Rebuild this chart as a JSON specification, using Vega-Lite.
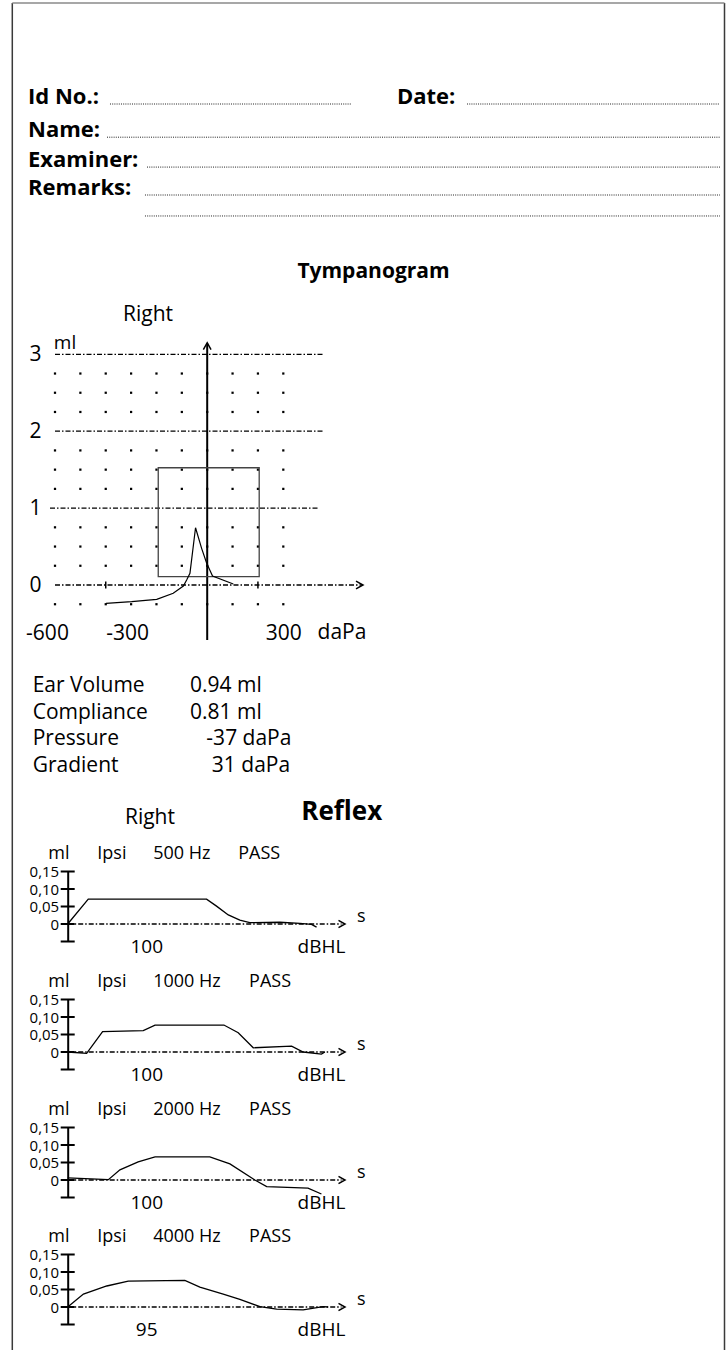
{
"$schema":"https://vega.github.io/schema/vega-lite/v6.json",
"width":726,"height":1350,"padding":0,"autosize":{"type":"none"},
"background":"white",
"config":{"view":{"stroke":null},"font":"Open Sans","text":{"font":"Open Sans","color":"black"}},
"resolve":{"scale":{"x":"independent","y":"independent"},"axis":{"x":"independent","y":"independent"}},
"layer":[
{
 "data":{"values":[{"part":"frame"}]},
 "layer":[
  {"mark":{"type":"rule","color":"#3a3a3a","strokeWidth":1.5},
   "encoding":{"x":{"datum":0,"type":"quantitative","scale":{"domain":[0,1],"range":[12.3,724.5],"nice":false,"zero":false},"axis":null},
               "y":{"datum":0,"type":"quantitative","scale":{"domain":[0,1],"range":[1350,3],"nice":false,"zero":false},"axis":null},"y2":{"datum":1}}},
  {"mark":{"type":"rule","color":"#3a3a3a","strokeWidth":1.5},
   "encoding":{"x":{"datum":1,"type":"quantitative","scale":{"domain":[0,1],"range":[12.3,724.5],"nice":false,"zero":false},"axis":null},
               "y":{"datum":0,"type":"quantitative","scale":{"domain":[0,1],"range":[1350,3],"nice":false,"zero":false},"axis":null},"y2":{"datum":1}}},
  {"mark":{"type":"rule","color":"#8a8a8a","strokeWidth":1.5},
   "encoding":{"x":{"datum":0,"type":"quantitative","scale":{"domain":[0,1],"range":[12.3,724.5],"nice":false,"zero":false},"axis":null},"x2":{"datum":1},
               "y":{"datum":1,"type":"quantitative","scale":{"domain":[0,1],"range":[1350,3],"nice":false,"zero":false},"axis":null}}}
 ]
},
{
 "data":{"values":[{"label":"Id No.:","row":1},{"label":"Name:","row":2},{"label":"Examiner:","row":3},{"label":"Remarks:","row":4}]},
 "layer":[
  {"mark":{"type":"text","fontWeight":"bold","fontSize":22,"align":"left","baseline":"alphabetic"},
   "encoding":{"x":{"datum":3.86,"type":"quantitative","scale":{"domain":[0,100],"range":[0,726],"nice":false,"zero":false},"axis":null},
               "y":{"field":"row","type":"quantitative","scale":{"type":"pow","exponent":0.8,"domain":[1,4],"range":[104,195],"nice":false,"zero":false},"axis":null},
               "text":{"field":"label"}}},
  {"data":{"values":[{"label":"Date:","row":1}]},
   "mark":{"type":"text","fontWeight":"bold","fontSize":22,"align":"left","baseline":"alphabetic"},
   "encoding":{"x":{"datum":54.68,"type":"quantitative","scale":{"domain":[0,100],"range":[0,726],"nice":false,"zero":false},"axis":null},
               "y":{"field":"row","type":"quantitative","scale":{"type":"pow","exponent":0.8,"domain":[1,4],"range":[104,195],"nice":false,"zero":false},"axis":null},
               "text":{"field":"label"}}},
  {"data":{"values":[{"row":1}]},"mark":{"type":"rule","color":"#222","strokeWidth":1,"strokeDash":[1,1.2]},
   "encoding":{"x":{"datum":15.15,"type":"quantitative","scale":{"domain":[0,100],"range":[0,726],"nice":false,"zero":false},"axis":null},"x2":{"datum":48.48},
               "y":{"field":"row","type":"quantitative","scale":{"type":"pow","exponent":0.8,"domain":[1,4],"range":[104,195],"nice":false,"zero":false},"axis":null}}},
  {"data":{"values":[{"row":1}]},"mark":{"type":"rule","color":"#222","strokeWidth":1,"strokeDash":[1,1.2]},
   "encoding":{"x":{"datum":64.33,"type":"quantitative","scale":{"domain":[0,100],"range":[0,726],"nice":false,"zero":false},"axis":null},"x2":{"datum":99.17},
               "y":{"field":"row","type":"quantitative","scale":{"type":"pow","exponent":0.8,"domain":[1,4],"range":[104,195],"nice":false,"zero":false},"axis":null}}},
  {"data":{"values":[{"row":2}]},"mark":{"type":"rule","color":"#222","strokeWidth":1,"strokeDash":[1,1.2]},
   "encoding":{"x":{"datum":14.74,"type":"quantitative","scale":{"domain":[0,100],"range":[0,726],"nice":false,"zero":false},"axis":null},"x2":{"datum":99.17},
               "y":{"field":"row","type":"quantitative","scale":{"type":"pow","exponent":0.8,"domain":[1,4],"range":[104,195],"nice":false,"zero":false},"axis":null}}},
  {"data":{"values":[{"row":3}]},"mark":{"type":"rule","color":"#222","strokeWidth":1,"strokeDash":[1,1.2]},
   "encoding":{"x":{"datum":20.25,"type":"quantitative","scale":{"domain":[0,100],"range":[0,726],"nice":false,"zero":false},"axis":null},"x2":{"datum":99.17},
               "y":{"field":"row","type":"quantitative","scale":{"type":"pow","exponent":0.8,"domain":[1,4],"range":[104,195],"nice":false,"zero":false},"axis":null}}},
  {"data":{"values":[{"row":4}]},"mark":{"type":"rule","color":"#222","strokeWidth":1,"strokeDash":[1,1.2]},
   "encoding":{"x":{"datum":19.97,"type":"quantitative","scale":{"domain":[0,100],"range":[0,726],"nice":false,"zero":false},"axis":null},"x2":{"datum":99.17},
               "y":{"field":"row","type":"quantitative","scale":{"type":"pow","exponent":0.8,"domain":[1,4],"range":[104,195],"nice":false,"zero":false},"axis":null}}},
  {"data":{"values":[{"line":"remarks continued"}]},"mark":{"type":"rule","color":"#222","strokeWidth":1,"strokeDash":[1,1.2]},
   "encoding":{"x":{"datum":19.97,"type":"quantitative","scale":{"domain":[0,100],"range":[0,726],"nice":false,"zero":false},"axis":null},"x2":{"datum":99.17},
               "y":{"datum":4.787,"type":"quantitative","scale":{"type":"pow","exponent":0.8,"domain":[1,4],"range":[104,195],"nice":false,"zero":false},"axis":null}}}
 ]
},
{
 "data":{"values":[
  {"pressure":-399,"compliance":-0.238},{"pressure":-298,"compliance":-0.217},{"pressure":-199,"compliance":-0.186},
  {"pressure":-134,"compliance":-0.108},{"pressure":-94,"compliance":-0.013},{"pressure":-81,"compliance":0.065},
  {"pressure":-68,"compliance":0.152},{"pressure":-46,"compliance":0.745},{"pressure":-22,"compliance":0.477},
  {"pressure":-2,"compliance":0.282},{"pressure":21,"compliance":0.117},{"pressure":103,"compliance":0.013}
 ]},
 "layer":[
  {"data":{"values":[{"ml":3},{"ml":2}]},"mark":{"type":"rule","color":"black","strokeWidth":1.3,"strokeDash":[5,2,1.5,2]},
   "encoding":{"x":{"datum":-600,"type":"quantitative","scale":{"domain":[-600,300],"range":[55,283.3],"nice":false,"zero":false},
                    "axis":{"orient":"bottom","offset":-765,"values":[-600,-300,300],"labelExpr":"'' + datum.value","labelOffset":{"condition":[{"test":"datum.value == -600","value":-8},{"test":"datum.value == -300","value":-4}],"value":0},"labelPadding":48,"labelBaseline":"middle","labelAlign":"center","ticks":false,"tickSize":0,"domain":false,"grid":false,"title":null,"labelFont":"Open Sans","labelFontSize":21,"labelColor":"black","labelOverlap":false,"labelFlush":false,"labelBound":false}},
               "x2":{"datum":456.5},
               "y":{"field":"ml","type":"quantitative","scale":{"domain":[0,3],"range":[585,354.3],"nice":false,"zero":false},
                    "axis":{"orient":"left","offset":-55,"values":[0,1,2,3],"labelExpr":"'' + datum.value","labelPadding":14,"labelBaseline":"middle","labelAlign":"right","ticks":false,"tickSize":0,"domain":false,"grid":false,"title":null,"labelFont":"Open Sans","labelFontSize":21,"labelColor":"black","labelOverlap":false,"labelFlush":false,"labelBound":false}}}},
  {"data":{"values":[{"ml":1}]},"mark":{"type":"rule","color":"black","strokeWidth":1.3,"strokeDash":[5,2,1.5,2]},
   "encoding":{"x":{"datum":-619.7,"type":"quantitative","scale":{"domain":[-600,300],"range":[55,283.3],"nice":false,"zero":false}},"x2":{"datum":436.8},
               "y":{"field":"ml","type":"quantitative","scale":{"domain":[0,3],"range":[585,354.3],"nice":false,"zero":false}}}},
  {"data":{"values":[{"ml":0}]},"mark":{"type":"rule","color":"black","strokeWidth":1.3,"strokeDash":[5,2,1.5,2]},
   "encoding":{"x":{"datum":-600,"type":"quantitative","scale":{"domain":[-600,300],"range":[55,283.3],"nice":false,"zero":false}},"x2":{"datum":612},
               "y":{"field":"ml","type":"quantitative","scale":{"domain":[0,3],"range":[585,354.3],"nice":false,"zero":false}}}},
  {"data":{"values":[
     {"ml":2.75,"daPa":[-600,-500,-400,-300,-200,-100,0,100,200,300]},
     {"ml":2.5,"daPa":[-600,-500,-400,-300,-200,-100,0,100,200,300]},
     {"ml":2.25,"daPa":[-600,-500,-400,-300,-200,-100,0,100,200,300]},
     {"ml":1.75,"daPa":[-600,-500,-400,-300,-200,-100,0,100,200,300]},
     {"ml":1.5,"daPa":[-600,-500,-400,-300,-200,-100,0,100,200,300]},
     {"ml":1.25,"daPa":[-600,-500,-400,-300,-200,-100,0,100,200,300]},
     {"ml":0.75,"daPa":[-600,-500,-400,-300,-200,-100,0,100,200,300]},
     {"ml":0.5,"daPa":[-600,-500,-400,-300,-200,-100,0,100,200,300]},
     {"ml":0.25,"daPa":[-600,-500,-400,-300,-200,-100,0,100,200,300]},
     {"ml":-0.25,"daPa":[-600,-500,-400,-300,-200,-100,0,100,200,300]}
   ]},
   "transform":[{"flatten":["daPa"]}],
   "mark":{"type":"square","size":5,"color":"black","opacity":1},
   "encoding":{"x":{"field":"daPa","type":"quantitative","scale":{"domain":[-600,300],"range":[55,283.3],"nice":false,"zero":false}},
               "y":{"field":"ml","type":"quantitative","scale":{"domain":[0,3],"range":[585,354.3],"nice":false,"zero":false}}}},
  {"data":{"values":[{"daPa":-400},{"daPa":200}]},"mark":{"type":"tick","orient":"vertical","size":7,"thickness":1.5,"color":"black","opacity":1},
   "encoding":{"x":{"field":"daPa","type":"quantitative","scale":{"domain":[-600,300],"range":[55,283.3],"nice":false,"zero":false}},
               "y":{"datum":0,"type":"quantitative","scale":{"domain":[0,3],"range":[585,354.3],"nice":false,"zero":false}}}},
  {"data":{"values":[{"part":"pressure axis"}]},"mark":{"type":"rule","color":"black","strokeWidth":2},
   "encoding":{"x":{"datum":0,"type":"quantitative","scale":{"domain":[-600,300],"range":[55,283.3],"nice":false,"zero":false}},
               "y":{"datum":-0.715,"type":"quantitative","scale":{"domain":[0,3],"range":[585,354.3],"nice":false,"zero":false}},"y2":{"datum":3.14}}},
  {"data":{"values":[{"part":"arrow up"}]},"mark":{"type":"point","shape":"M-0.55,1L0,0L0.55,1","size":196,"filled":false,"color":"black","strokeWidth":1.5,"opacity":1},
   "encoding":{"x":{"datum":0,"type":"quantitative","scale":{"domain":[-600,300],"range":[55,283.3],"nice":false,"zero":false}},
               "y":{"datum":3.151,"type":"quantitative","scale":{"domain":[0,3],"range":[585,354.3],"nice":false,"zero":false}}}},
  {"data":{"values":[{"part":"arrow right"}]},"mark":{"type":"point","shape":"M-1,-0.55L0,0L-1,0.55","size":196,"filled":false,"color":"black","strokeWidth":1.5,"opacity":1},
   "encoding":{"x":{"datum":614.2,"type":"quantitative","scale":{"domain":[-600,300],"range":[55,283.3],"nice":false,"zero":false}},
               "y":{"datum":0,"type":"quantitative","scale":{"domain":[0,3],"range":[585,354.3],"nice":false,"zero":false}}}},
  {"data":{"values":[{"part":"normal region"}]},"mark":{"type":"rect","filled":false,"color":"#444","strokeWidth":1.3},
   "encoding":{"x":{"datum":-193,"type":"quantitative","scale":{"domain":[-600,300],"range":[55,283.3],"nice":false,"zero":false}},"x2":{"datum":205},
               "y":{"datum":0.108,"type":"quantitative","scale":{"domain":[0,3],"range":[585,354.3],"nice":false,"zero":false}},"y2":{"datum":1.525}}},
  {"mark":{"type":"line","color":"black","strokeWidth":1.2},
   "encoding":{"x":{"field":"pressure","type":"quantitative","scale":{"domain":[-600,300],"range":[55,283.3],"nice":false,"zero":false}},
               "y":{"field":"compliance","type":"quantitative","scale":{"domain":[0,3],"range":[585,354.3],"nice":false,"zero":false}}}},
  {"data":{"values":[{"label":"ml"}]},"mark":{"type":"text","fontSize":19,"align":"center","baseline":"middle"},
   "encoding":{"x":{"datum":-560.6,"type":"quantitative","scale":{"domain":[-600,300],"range":[55,283.3],"nice":false,"zero":false}},
               "y":{"datum":3.147,"type":"quantitative","scale":{"domain":[0,3],"range":[585,354.3],"nice":false,"zero":false}},"text":{"field":"label"}}},
  {"data":{"values":[{"label":"daPa"}]},"mark":{"type":"text","fontSize":21,"align":"center","baseline":"middle"},
   "encoding":{"x":{"datum":531.4,"type":"quantitative","scale":{"domain":[-600,300],"range":[55,283.3],"nice":false,"zero":false}},
               "y":{"datum":-0.624,"type":"quantitative","scale":{"domain":[0,3],"range":[585,354.3],"nice":false,"zero":false}},"text":{"field":"label"}}},
  {"data":{"values":[{"label":"Right"}]},"mark":{"type":"text","fontSize":21,"align":"center","baseline":"middle"},
   "encoding":{"x":{"datum":-233,"type":"quantitative","scale":{"domain":[-600,300],"range":[55,283.3],"nice":false,"zero":false}},
               "y":{"datum":3.511,"type":"quantitative","scale":{"domain":[0,3],"range":[585,354.3],"nice":false,"zero":false}},"text":{"field":"label"}}},
  {"data":{"values":[{"label":"Tympanogram"}]},"mark":{"type":"text","fontSize":21,"fontWeight":"bold","align":"center","baseline":"middle"},
   "encoding":{"x":{"datum":655.6,"type":"quantitative","scale":{"domain":[-600,300],"range":[55,283.3],"nice":false,"zero":false}},
               "y":{"datum":4.07,"type":"quantitative","scale":{"domain":[0,3],"range":[585,354.3],"nice":false,"zero":false}},"text":{"field":"label"}}}
 ]
},
{
 "data":{"values":[
  {"quantity":"Ear Volume","value":"0.94 ml"},
  {"quantity":"Compliance","value":"0.81 ml"},
  {"quantity":"Pressure","value":"\u200b\u00a0\u00a0\u00a0-37 daPa"},
  {"quantity":"Gradient","value":"\u200b\u00a0\u00a0\u00a0\u00a031 daPa"}
 ]},
 "layer":[
  {"mark":{"type":"text","fontSize":21,"align":"left","baseline":"middle"},
   "encoding":{"x":{"datum":0,"type":"quantitative","scale":{"domain":[0,1],"range":[32.7,190],"nice":false,"zero":false},"axis":null},
               "y":{"field":"quantity","type":"nominal","sort":null,"scale":{"type":"point","domain":["Ear Volume","Compliance","Pressure","Gradient"],"range":[686,766],"padding":0},"axis":null},
               "text":{"field":"quantity"}}},
  {"mark":{"type":"text","fontSize":21,"align":"left","baseline":"middle"},
   "encoding":{"x":{"datum":1,"type":"quantitative","scale":{"domain":[0,1],"range":[32.7,190],"nice":false,"zero":false},"axis":null},
               "y":{"field":"quantity","type":"nominal","sort":null,"scale":{"type":"point","domain":["Ear Volume","Compliance","Pressure","Gradient"],"range":[686,766],"padding":0},"axis":null},
               "text":{"field":"value"}}}
 ]
},
{
 "data":{"values":[{"ear":"Ipsi","freq":"500 Hz","result":"PASS","level":"100"}]},
 "layer":[
  {"mark":{"type":"rule","color":"black","strokeWidth":1.5,"strokeDash":[5,2,1.5,2]},
   "encoding":{"x":{"datum":0,"type":"quantitative","scale":{"domain":[0,1.2],"range":[67.7,345],"nice":false,"zero":false},"axis":null},"x2":{"datum":1.185},
               "y":{"datum":0,"type":"quantitative","scale":{"domain":[-0.05,0.15],"range":[941.5,871.5],"nice":false,"zero":false},
                    "axis":{"orient":"left","offset":-67.7,"values":[0,0.05,0.1,0.15],"labelExpr":"datum.value == 0 ? '0' : replace(format(datum.value, '.2f'), '.', ',')","labelPadding":9,"ticks":false,"tickSize":0,"domain":true,"domainColor":"black","domainWidth":2,"grid":false,"title":null,"labelFont":"Open Sans","labelFontSize":15,"labelColor":"black","labelBaseline":"middle","labelAlign":"right","labelOverlap":false,"labelFlush":false,"labelBound":false}}}},
  {"mark":{"type":"point","shape":"M-1,-0.55L0,0L-1,0.55","size":169,"filled":false,"color":"black","strokeWidth":1.5,"opacity":1},
   "encoding":{"x":{"datum":1.2,"type":"quantitative","scale":{"domain":[0,1.2],"range":[67.7,345],"nice":false,"zero":false},"axis":null},
               "y":{"datum":0,"type":"quantitative","scale":{"domain":[-0.05,0.15],"range":[941.5,871.5],"nice":false,"zero":false}}}},
  {"data":{"values":[{"t":0,"dv":0},{"t":0.089,"dv":0.071},{"t":0.601,"dv":0.071},{"t":0.644,"dv":0.051},{"t":0.695,"dv":0.026},{"t":0.745,"dv":0.011},{"t":0.788,"dv":0.004},{"t":0.918,"dv":0.005},{"t":1.005,"dv":0.002},{"t":1.055,"dv":-0.001},{"t":1.077,"dv":-0.009}]},
   "mark":{"type":"line","color":"black","strokeWidth":1.3},
   "encoding":{"x":{"field":"t","type":"quantitative","scale":{"domain":[0,1.2],"range":[67.7,345],"nice":false,"zero":false},"axis":null},
               "y":{"field":"dv","type":"quantitative","scale":{"domain":[-0.05,0.15],"range":[941.5,871.5],"nice":false,"zero":false}}}},
  {"data":{"values":[{"v":-0.05},{"v":0},{"v":0.05},{"v":0.1},{"v":0.15}]},
   "mark":{"type":"tick","orient":"horizontal","size":14,"thickness":2,"color":"black","opacity":1},
   "encoding":{"x":{"datum":0,"type":"quantitative","scale":{"domain":[0,1.2],"range":[67.7,345],"nice":false,"zero":false},"axis":null},
               "y":{"field":"v","type":"quantitative","scale":{"domain":[-0.05,0.15],"range":[941.5,871.5],"nice":false,"zero":false}}}},
  {"mark":{"type":"text","fontSize":18,"align":"left","baseline":"middle"},
   "encoding":{"x":{"datum":-0.084,"type":"quantitative","scale":{"domain":[0,1.2],"range":[67.7,345],"nice":false,"zero":false},"axis":null},
               "y":{"datum":0.2,"type":"quantitative","scale":{"domain":[-0.05,0.15],"range":[941.5,871.5],"nice":false,"zero":false}},"text":{"value":"ml"}}},
  {"mark":{"type":"text","fontSize":18,"align":"left","baseline":"middle"},
   "encoding":{"x":{"datum":0.128,"type":"quantitative","scale":{"domain":[0,1.2],"range":[67.7,345],"nice":false,"zero":false},"axis":null},
               "y":{"datum":0.2,"type":"quantitative","scale":{"domain":[-0.05,0.15],"range":[941.5,871.5],"nice":false,"zero":false}},"text":{"field":"ear"}}},
  {"mark":{"type":"text","fontSize":18,"align":"left","baseline":"middle"},
   "encoding":{"x":{"datum":0.37,"type":"quantitative","scale":{"domain":[0,1.2],"range":[67.7,345],"nice":false,"zero":false},"axis":null},
               "y":{"datum":0.2,"type":"quantitative","scale":{"domain":[-0.05,0.15],"range":[941.5,871.5],"nice":false,"zero":false}},"text":{"field":"freq"}}},
  {"mark":{"type":"text","fontSize":18,"align":"left","baseline":"middle"},
   "encoding":{"x":{"datum":0.738,"type":"quantitative","scale":{"domain":[0,1.2],"range":[67.7,345],"nice":false,"zero":false},"axis":null},
               "y":{"datum":0.2,"type":"quantitative","scale":{"domain":[-0.05,0.15],"range":[941.5,871.5],"nice":false,"zero":false}},"text":{"field":"result"}}},
  {"mark":{"type":"text","fontSize":18,"align":"center","baseline":"middle"},
   "encoding":{"x":{"datum":1.27,"type":"quantitative","scale":{"domain":[0,1.2],"range":[67.7,345],"nice":false,"zero":false},"axis":null},
               "y":{"datum":0.021,"type":"quantitative","scale":{"domain":[-0.05,0.15],"range":[941.5,871.5],"nice":false,"zero":false}},"text":{"value":"s"}}},
  {"mark":{"type":"text","fontSize":19,"align":"center","baseline":"middle"},
   "encoding":{"x":{"datum":0.342,"type":"quantitative","scale":{"domain":[0,1.2],"range":[67.7,345],"nice":false,"zero":false},"axis":null},
               "y":{"datum":-0.065,"type":"quantitative","scale":{"domain":[-0.05,0.15],"range":[941.5,871.5],"nice":false,"zero":false}},"text":{"field":"level"}}},
  {"mark":{"type":"text","fontSize":19,"align":"center","baseline":"middle"},
   "encoding":{"x":{"datum":1.098,"type":"quantitative","scale":{"domain":[0,1.2],"range":[67.7,345],"nice":false,"zero":false},"axis":null},
               "y":{"datum":-0.065,"type":"quantitative","scale":{"domain":[-0.05,0.15],"range":[941.5,871.5],"nice":false,"zero":false}},"text":{"value":"dBHL"}}},
  {"mark":{"type":"text","fontSize":21,"align":"center","baseline":"middle"},
   "encoding":{"x":{"datum":0.356,"type":"quantitative","scale":{"domain":[0,1.2],"range":[67.7,345],"nice":false,"zero":false},"axis":null},
               "y":{"datum":0.303,"type":"quantitative","scale":{"domain":[-0.05,0.15],"range":[941.5,871.5],"nice":false,"zero":false}},"text":{"value":"Right"}}},
  {"mark":{"type":"text","fontSize":26,"fontWeight":"bold","align":"center","baseline":"middle"},
   "encoding":{"x":{"datum":1.186,"type":"quantitative","scale":{"domain":[0,1.2],"range":[67.7,345],"nice":false,"zero":false},"axis":null},
               "y":{"datum":0.32,"type":"quantitative","scale":{"domain":[-0.05,0.15],"range":[941.5,871.5],"nice":false,"zero":false}},"text":{"value":"Reflex"}}}
 ]
},
{
 "data":{"values":[{"ear":"Ipsi","freq":"1000 Hz","result":"PASS","level":"100"}]},
 "layer":[
  {"mark":{"type":"rule","color":"black","strokeWidth":1.5,"strokeDash":[5,2,1.5,2]},
   "encoding":{"x":{"datum":0,"type":"quantitative","scale":{"domain":[0,1.2],"range":[67.7,345],"nice":false,"zero":false},"axis":null},"x2":{"datum":1.185},
               "y":{"datum":0,"type":"quantitative","scale":{"domain":[-0.05,0.15],"range":[1069.5,999.5],"nice":false,"zero":false},
                    "axis":{"orient":"left","offset":-67.7,"values":[0,0.05,0.1,0.15],"labelExpr":"datum.value == 0 ? '0' : replace(format(datum.value, '.2f'), '.', ',')","labelPadding":9,"ticks":false,"tickSize":0,"domain":true,"domainColor":"black","domainWidth":2,"grid":false,"title":null,"labelFont":"Open Sans","labelFontSize":15,"labelColor":"black","labelBaseline":"middle","labelAlign":"right","labelOverlap":false,"labelFlush":false,"labelBound":false}}}},
  {"mark":{"type":"point","shape":"M-1,-0.55L0,0L-1,0.55","size":169,"filled":false,"color":"black","strokeWidth":1.5,"opacity":1},
   "encoding":{"x":{"datum":1.2,"type":"quantitative","scale":{"domain":[0,1.2],"range":[67.7,345],"nice":false,"zero":false},"axis":null},
               "y":{"datum":0,"type":"quantitative","scale":{"domain":[-0.05,0.15],"range":[1069.5,999.5],"nice":false,"zero":false}}}},
  {"data":{"values":[{"t":0,"dv":0},{"t":0.082,"dv":-0.004},{"t":0.151,"dv":0.058},{"t":0.327,"dv":0.061},{"t":0.378,"dv":0.077},{"t":0.676,"dv":0.077},{"t":0.738,"dv":0.055},{"t":0.803,"dv":0.012},{"t":0.969,"dv":0.017},{"t":1.019,"dv":0.0},{"t":1.098,"dv":-0.006},{"t":1.113,"dv":0}]},
   "mark":{"type":"line","color":"black","strokeWidth":1.3},
   "encoding":{"x":{"field":"t","type":"quantitative","scale":{"domain":[0,1.2],"range":[67.7,345],"nice":false,"zero":false},"axis":null},
               "y":{"field":"dv","type":"quantitative","scale":{"domain":[-0.05,0.15],"range":[1069.5,999.5],"nice":false,"zero":false}}}},
  {"data":{"values":[{"v":-0.05},{"v":0},{"v":0.05},{"v":0.1},{"v":0.15}]},
   "mark":{"type":"tick","orient":"horizontal","size":14,"thickness":2,"color":"black","opacity":1},
   "encoding":{"x":{"datum":0,"type":"quantitative","scale":{"domain":[0,1.2],"range":[67.7,345],"nice":false,"zero":false},"axis":null},
               "y":{"field":"v","type":"quantitative","scale":{"domain":[-0.05,0.15],"range":[1069.5,999.5],"nice":false,"zero":false}}}},
  {"mark":{"type":"text","fontSize":18,"align":"left","baseline":"middle"},
   "encoding":{"x":{"datum":-0.084,"type":"quantitative","scale":{"domain":[0,1.2],"range":[67.7,345],"nice":false,"zero":false},"axis":null},
               "y":{"datum":0.2,"type":"quantitative","scale":{"domain":[-0.05,0.15],"range":[1069.5,999.5],"nice":false,"zero":false}},"text":{"value":"ml"}}},
  {"mark":{"type":"text","fontSize":18,"align":"left","baseline":"middle"},
   "encoding":{"x":{"datum":0.128,"type":"quantitative","scale":{"domain":[0,1.2],"range":[67.7,345],"nice":false,"zero":false},"axis":null},
               "y":{"datum":0.2,"type":"quantitative","scale":{"domain":[-0.05,0.15],"range":[1069.5,999.5],"nice":false,"zero":false}},"text":{"field":"ear"}}},
  {"mark":{"type":"text","fontSize":18,"align":"left","baseline":"middle"},
   "encoding":{"x":{"datum":0.37,"type":"quantitative","scale":{"domain":[0,1.2],"range":[67.7,345],"nice":false,"zero":false},"axis":null},
               "y":{"datum":0.2,"type":"quantitative","scale":{"domain":[-0.05,0.15],"range":[1069.5,999.5],"nice":false,"zero":false}},"text":{"field":"freq"}}},
  {"mark":{"type":"text","fontSize":18,"align":"left","baseline":"middle"},
   "encoding":{"x":{"datum":0.785,"type":"quantitative","scale":{"domain":[0,1.2],"range":[67.7,345],"nice":false,"zero":false},"axis":null},
               "y":{"datum":0.2,"type":"quantitative","scale":{"domain":[-0.05,0.15],"range":[1069.5,999.5],"nice":false,"zero":false}},"text":{"field":"result"}}},
  {"mark":{"type":"text","fontSize":18,"align":"center","baseline":"middle"},
   "encoding":{"x":{"datum":1.27,"type":"quantitative","scale":{"domain":[0,1.2],"range":[67.7,345],"nice":false,"zero":false},"axis":null},
               "y":{"datum":0.021,"type":"quantitative","scale":{"domain":[-0.05,0.15],"range":[1069.5,999.5],"nice":false,"zero":false}},"text":{"value":"s"}}},
  {"mark":{"type":"text","fontSize":19,"align":"center","baseline":"middle"},
   "encoding":{"x":{"datum":0.342,"type":"quantitative","scale":{"domain":[0,1.2],"range":[67.7,345],"nice":false,"zero":false},"axis":null},
               "y":{"datum":-0.065,"type":"quantitative","scale":{"domain":[-0.05,0.15],"range":[1069.5,999.5],"nice":false,"zero":false}},"text":{"field":"level"}}},
  {"mark":{"type":"text","fontSize":19,"align":"center","baseline":"middle"},
   "encoding":{"x":{"datum":1.098,"type":"quantitative","scale":{"domain":[0,1.2],"range":[67.7,345],"nice":false,"zero":false},"axis":null},
               "y":{"datum":-0.065,"type":"quantitative","scale":{"domain":[-0.05,0.15],"range":[1069.5,999.5],"nice":false,"zero":false}},"text":{"value":"dBHL"}}}
 ]
},
{
 "data":{"values":[{"ear":"Ipsi","freq":"2000 Hz","result":"PASS","level":"100"}]},
 "layer":[
  {"mark":{"type":"rule","color":"black","strokeWidth":1.5,"strokeDash":[5,2,1.5,2]},
   "encoding":{"x":{"datum":0,"type":"quantitative","scale":{"domain":[0,1.2],"range":[67.7,345],"nice":false,"zero":false},"axis":null},"x2":{"datum":1.185},
               "y":{"datum":0,"type":"quantitative","scale":{"domain":[-0.05,0.15],"range":[1197.5,1127.5],"nice":false,"zero":false},
                    "axis":{"orient":"left","offset":-67.7,"values":[0,0.05,0.1,0.15],"labelExpr":"datum.value == 0 ? '0' : replace(format(datum.value, '.2f'), '.', ',')","labelPadding":9,"ticks":false,"tickSize":0,"domain":true,"domainColor":"black","domainWidth":2,"grid":false,"title":null,"labelFont":"Open Sans","labelFontSize":15,"labelColor":"black","labelBaseline":"middle","labelAlign":"right","labelOverlap":false,"labelFlush":false,"labelBound":false}}}},
  {"mark":{"type":"point","shape":"M-1,-0.55L0,0L-1,0.55","size":169,"filled":false,"color":"black","strokeWidth":1.5,"opacity":1},
   "encoding":{"x":{"datum":1.2,"type":"quantitative","scale":{"domain":[0,1.2],"range":[67.7,345],"nice":false,"zero":false},"axis":null},
               "y":{"datum":0,"type":"quantitative","scale":{"domain":[-0.05,0.15],"range":[1197.5,1127.5],"nice":false,"zero":false}}}},
  {"data":{"values":[{"t":0,"dv":0.006},{"t":0.176,"dv":0.001},{"t":0.226,"dv":0.029},{"t":0.305,"dv":0.052},{"t":0.378,"dv":0.066},{"t":0.615,"dv":0.066},{"t":0.702,"dv":0.046},{"t":0.81,"dv":0.0},{"t":0.861,"dv":-0.019},{"t":1.04,"dv":-0.023},{"t":1.098,"dv":-0.04}]},
   "mark":{"type":"line","color":"black","strokeWidth":1.3},
   "encoding":{"x":{"field":"t","type":"quantitative","scale":{"domain":[0,1.2],"range":[67.7,345],"nice":false,"zero":false},"axis":null},
               "y":{"field":"dv","type":"quantitative","scale":{"domain":[-0.05,0.15],"range":[1197.5,1127.5],"nice":false,"zero":false}}}},
  {"data":{"values":[{"v":-0.05},{"v":0},{"v":0.05},{"v":0.1},{"v":0.15}]},
   "mark":{"type":"tick","orient":"horizontal","size":14,"thickness":2,"color":"black","opacity":1},
   "encoding":{"x":{"datum":0,"type":"quantitative","scale":{"domain":[0,1.2],"range":[67.7,345],"nice":false,"zero":false},"axis":null},
               "y":{"field":"v","type":"quantitative","scale":{"domain":[-0.05,0.15],"range":[1197.5,1127.5],"nice":false,"zero":false}}}},
  {"mark":{"type":"text","fontSize":18,"align":"left","baseline":"middle"},
   "encoding":{"x":{"datum":-0.084,"type":"quantitative","scale":{"domain":[0,1.2],"range":[67.7,345],"nice":false,"zero":false},"axis":null},
               "y":{"datum":0.2,"type":"quantitative","scale":{"domain":[-0.05,0.15],"range":[1197.5,1127.5],"nice":false,"zero":false}},"text":{"value":"ml"}}},
  {"mark":{"type":"text","fontSize":18,"align":"left","baseline":"middle"},
   "encoding":{"x":{"datum":0.128,"type":"quantitative","scale":{"domain":[0,1.2],"range":[67.7,345],"nice":false,"zero":false},"axis":null},
               "y":{"datum":0.2,"type":"quantitative","scale":{"domain":[-0.05,0.15],"range":[1197.5,1127.5],"nice":false,"zero":false}},"text":{"field":"ear"}}},
  {"mark":{"type":"text","fontSize":18,"align":"left","baseline":"middle"},
   "encoding":{"x":{"datum":0.37,"type":"quantitative","scale":{"domain":[0,1.2],"range":[67.7,345],"nice":false,"zero":false},"axis":null},
               "y":{"datum":0.2,"type":"quantitative","scale":{"domain":[-0.05,0.15],"range":[1197.5,1127.5],"nice":false,"zero":false}},"text":{"field":"freq"}}},
  {"mark":{"type":"text","fontSize":18,"align":"left","baseline":"middle"},
   "encoding":{"x":{"datum":0.785,"type":"quantitative","scale":{"domain":[0,1.2],"range":[67.7,345],"nice":false,"zero":false},"axis":null},
               "y":{"datum":0.2,"type":"quantitative","scale":{"domain":[-0.05,0.15],"range":[1197.5,1127.5],"nice":false,"zero":false}},"text":{"field":"result"}}},
  {"mark":{"type":"text","fontSize":18,"align":"center","baseline":"middle"},
   "encoding":{"x":{"datum":1.27,"type":"quantitative","scale":{"domain":[0,1.2],"range":[67.7,345],"nice":false,"zero":false},"axis":null},
               "y":{"datum":0.021,"type":"quantitative","scale":{"domain":[-0.05,0.15],"range":[1197.5,1127.5],"nice":false,"zero":false}},"text":{"value":"s"}}},
  {"mark":{"type":"text","fontSize":19,"align":"center","baseline":"middle"},
   "encoding":{"x":{"datum":0.342,"type":"quantitative","scale":{"domain":[0,1.2],"range":[67.7,345],"nice":false,"zero":false},"axis":null},
               "y":{"datum":-0.065,"type":"quantitative","scale":{"domain":[-0.05,0.15],"range":[1197.5,1127.5],"nice":false,"zero":false}},"text":{"field":"level"}}},
  {"mark":{"type":"text","fontSize":19,"align":"center","baseline":"middle"},
   "encoding":{"x":{"datum":1.098,"type":"quantitative","scale":{"domain":[0,1.2],"range":[67.7,345],"nice":false,"zero":false},"axis":null},
               "y":{"datum":-0.065,"type":"quantitative","scale":{"domain":[-0.05,0.15],"range":[1197.5,1127.5],"nice":false,"zero":false}},"text":{"value":"dBHL"}}}
 ]
},
{
 "data":{"values":[{"ear":"Ipsi","freq":"4000 Hz","result":"PASS","level":"95"}]},
 "layer":[
  {"mark":{"type":"rule","color":"black","strokeWidth":1.5,"strokeDash":[5,2,1.5,2]},
   "encoding":{"x":{"datum":0,"type":"quantitative","scale":{"domain":[0,1.2],"range":[67.7,345],"nice":false,"zero":false},"axis":null},"x2":{"datum":1.185},
               "y":{"datum":0,"type":"quantitative","scale":{"domain":[-0.05,0.15],"range":[1324.5,1254.5],"nice":false,"zero":false},
                    "axis":{"orient":"left","offset":-67.7,"values":[0,0.05,0.1,0.15],"labelExpr":"datum.value == 0 ? '0' : replace(format(datum.value, '.2f'), '.', ',')","labelPadding":9,"ticks":false,"tickSize":0,"domain":true,"domainColor":"black","domainWidth":2,"grid":false,"title":null,"labelFont":"Open Sans","labelFontSize":15,"labelColor":"black","labelBaseline":"middle","labelAlign":"right","labelOverlap":false,"labelFlush":false,"labelBound":false}}}},
  {"mark":{"type":"point","shape":"M-1,-0.55L0,0L-1,0.55","size":169,"filled":false,"color":"black","strokeWidth":1.5,"opacity":1},
   "encoding":{"x":{"datum":1.2,"type":"quantitative","scale":{"domain":[0,1.2],"range":[67.7,345],"nice":false,"zero":false},"axis":null},
               "y":{"datum":0,"type":"quantitative","scale":{"domain":[-0.05,0.15],"range":[1324.5,1254.5],"nice":false,"zero":false}}}},
  {"data":{"values":[{"t":0,"dv":0},{"t":0.068,"dv":0.037},{"t":0.169,"dv":0.06},{"t":0.262,"dv":0.074},{"t":0.507,"dv":0.076},{"t":0.572,"dv":0.057},{"t":0.673,"dv":0.037},{"t":0.745,"dv":0.022},{"t":0.832,"dv":0.001},{"t":0.904,"dv":-0.006},{"t":1.019,"dv":-0.008},{"t":1.105,"dv":0.001},{"t":1.127,"dv":0}]},
   "mark":{"type":"line","color":"black","strokeWidth":1.3},
   "encoding":{"x":{"field":"t","type":"quantitative","scale":{"domain":[0,1.2],"range":[67.7,345],"nice":false,"zero":false},"axis":null},
               "y":{"field":"dv","type":"quantitative","scale":{"domain":[-0.05,0.15],"range":[1324.5,1254.5],"nice":false,"zero":false}}}},
  {"data":{"values":[{"v":-0.05},{"v":0},{"v":0.05},{"v":0.1},{"v":0.15}]},
   "mark":{"type":"tick","orient":"horizontal","size":14,"thickness":2,"color":"black","opacity":1},
   "encoding":{"x":{"datum":0,"type":"quantitative","scale":{"domain":[0,1.2],"range":[67.7,345],"nice":false,"zero":false},"axis":null},
               "y":{"field":"v","type":"quantitative","scale":{"domain":[-0.05,0.15],"range":[1324.5,1254.5],"nice":false,"zero":false}}}},
  {"mark":{"type":"text","fontSize":18,"align":"left","baseline":"middle"},
   "encoding":{"x":{"datum":-0.084,"type":"quantitative","scale":{"domain":[0,1.2],"range":[67.7,345],"nice":false,"zero":false},"axis":null},
               "y":{"datum":0.2,"type":"quantitative","scale":{"domain":[-0.05,0.15],"range":[1324.5,1254.5],"nice":false,"zero":false}},"text":{"value":"ml"}}},
  {"mark":{"type":"text","fontSize":18,"align":"left","baseline":"middle"},
   "encoding":{"x":{"datum":0.128,"type":"quantitative","scale":{"domain":[0,1.2],"range":[67.7,345],"nice":false,"zero":false},"axis":null},
               "y":{"datum":0.2,"type":"quantitative","scale":{"domain":[-0.05,0.15],"range":[1324.5,1254.5],"nice":false,"zero":false}},"text":{"field":"ear"}}},
  {"mark":{"type":"text","fontSize":18,"align":"left","baseline":"middle"},
   "encoding":{"x":{"datum":0.37,"type":"quantitative","scale":{"domain":[0,1.2],"range":[67.7,345],"nice":false,"zero":false},"axis":null},
               "y":{"datum":0.2,"type":"quantitative","scale":{"domain":[-0.05,0.15],"range":[1324.5,1254.5],"nice":false,"zero":false}},"text":{"field":"freq"}}},
  {"mark":{"type":"text","fontSize":18,"align":"left","baseline":"middle"},
   "encoding":{"x":{"datum":0.785,"type":"quantitative","scale":{"domain":[0,1.2],"range":[67.7,345],"nice":false,"zero":false},"axis":null},
               "y":{"datum":0.2,"type":"quantitative","scale":{"domain":[-0.05,0.15],"range":[1324.5,1254.5],"nice":false,"zero":false}},"text":{"field":"result"}}},
  {"mark":{"type":"text","fontSize":18,"align":"center","baseline":"middle"},
   "encoding":{"x":{"datum":1.27,"type":"quantitative","scale":{"domain":[0,1.2],"range":[67.7,345],"nice":false,"zero":false},"axis":null},
               "y":{"datum":0.021,"type":"quantitative","scale":{"domain":[-0.05,0.15],"range":[1324.5,1254.5],"nice":false,"zero":false}},"text":{"value":"s"}}},
  {"mark":{"type":"text","fontSize":19,"align":"center","baseline":"middle"},
   "encoding":{"x":{"datum":0.342,"type":"quantitative","scale":{"domain":[0,1.2],"range":[67.7,345],"nice":false,"zero":false},"axis":null},
               "y":{"datum":-0.065,"type":"quantitative","scale":{"domain":[-0.05,0.15],"range":[1324.5,1254.5],"nice":false,"zero":false}},"text":{"field":"level"}}},
  {"mark":{"type":"text","fontSize":19,"align":"center","baseline":"middle"},
   "encoding":{"x":{"datum":1.098,"type":"quantitative","scale":{"domain":[0,1.2],"range":[67.7,345],"nice":false,"zero":false},"axis":null},
               "y":{"datum":-0.065,"type":"quantitative","scale":{"domain":[-0.05,0.15],"range":[1324.5,1254.5],"nice":false,"zero":false}},"text":{"value":"dBHL"}}}
 ]
}
]
}
